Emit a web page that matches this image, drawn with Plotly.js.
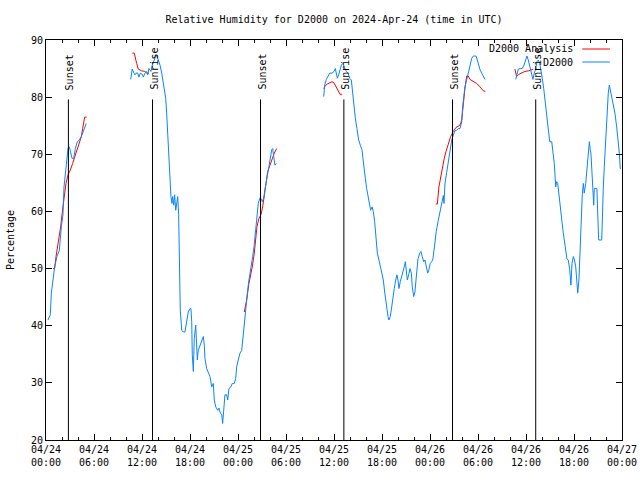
<!DOCTYPE html>
<html>
<head>
<meta charset="utf-8">
<script src="https://cdn.plot.ly/plotly-3.0.1.min.js"></script>
<style>html,body{margin:0;padding:0;background:#fff;}#chart{width:640px;height:480px;}</style>
</head>
<body>
<div id="chart"></div>
<script>
// D2000 observations (null = gap in record)
const obsTime = [
"2024-04-24 00:15","2024-04-24 00:32","2024-04-24 00:40","2024-04-24 00:52","2024-04-24 01:05","2024-04-24 01:22","2024-04-24 01:40","2024-04-24 01:55","2024-04-24 02:07","2024-04-24 02:15","2024-04-24 02:25","2024-04-24 02:32","2024-04-24 02:45","2024-04-24 02:55","2024-04-24 03:05","2024-04-24 03:15","2024-04-24 03:28","2024-04-24 03:40","2024-04-24 03:55","2024-04-24 04:10","2024-04-24 04:25","2024-04-24 04:40","2024-04-24 04:55","2024-04-24 05:02",
"2024-04-24 08:00",
"2024-04-24 10:35","2024-04-24 10:47","2024-04-24 11:00","2024-04-24 11:07","2024-04-24 11:15","2024-04-24 11:28","2024-04-24 11:37","2024-04-24 11:47","2024-04-24 12:02","2024-04-24 12:10","2024-04-24 12:22","2024-04-24 12:35","2024-04-24 12:43","2024-04-24 12:52","2024-04-24 13:07","2024-04-24 13:17","2024-04-24 13:32","2024-04-24 13:43","2024-04-24 13:52","2024-04-24 14:02","2024-04-24 14:15","2024-04-24 14:28","2024-04-24 14:40","2024-04-24 14:47","2024-04-24 14:58","2024-04-24 15:05","2024-04-24 15:13","2024-04-24 15:20","2024-04-24 15:28","2024-04-24 15:32","2024-04-24 15:37","2024-04-24 15:45","2024-04-24 15:50","2024-04-24 15:58","2024-04-24 16:05","2024-04-24 16:13","2024-04-24 16:20","2024-04-24 16:28","2024-04-24 16:35","2024-04-24 16:40","2024-04-24 16:47","2024-04-24 16:58","2024-04-24 17:10","2024-04-24 17:22","2024-04-24 17:35","2024-04-24 17:47","2024-04-24 18:00","2024-04-24 18:07","2024-04-24 18:13","2024-04-24 18:17","2024-04-24 18:25","2024-04-24 18:32","2024-04-24 18:43","2024-04-24 18:47","2024-04-24 18:55","2024-04-24 19:02","2024-04-24 19:15","2024-04-24 19:28","2024-04-24 19:40","2024-04-24 19:47","2024-04-24 19:52","2024-04-24 20:05","2024-04-24 20:17","2024-04-24 20:30","2024-04-24 20:43","2024-04-24 20:55","2024-04-24 21:02","2024-04-24 21:13","2024-04-24 21:28","2024-04-24 21:37","2024-04-24 21:45","2024-04-24 21:58","2024-04-24 22:05","2024-04-24 22:13","2024-04-24 22:22","2024-04-24 22:35","2024-04-24 22:43","2024-04-24 22:52","2024-04-24 23:07","2024-04-24 23:17","2024-04-24 23:32","2024-04-24 23:43","2024-04-24 23:50",
"2024-04-25 00:02","2024-04-25 00:15","2024-04-25 00:28","2024-04-25 00:35","2024-04-25 00:40","2024-04-25 00:47","2024-04-25 00:52","2024-04-25 00:58","2024-04-25 01:05","2024-04-25 01:13","2024-04-25 01:22","2024-04-25 01:30","2024-04-25 01:43","2024-04-25 01:50","2024-04-25 02:00","2024-04-25 02:07","2024-04-25 02:15","2024-04-25 02:22","2024-04-25 02:32","2024-04-25 02:43","2024-04-25 02:52","2024-04-25 03:02","2024-04-25 03:13","2024-04-25 03:22","2024-04-25 03:32","2024-04-25 03:43","2024-04-25 03:52","2024-04-25 04:02","2024-04-25 04:13","2024-04-25 04:20","2024-04-25 04:28","2024-04-25 04:37","2024-04-25 04:47",
"2024-04-25 08:00",
"2024-04-25 10:43","2024-04-25 10:50","2024-04-25 11:02","2024-04-25 11:15","2024-04-25 11:28","2024-04-25 11:45","2024-04-25 12:00","2024-04-25 12:10","2024-04-25 12:17","2024-04-25 12:25","2024-04-25 12:35","2024-04-25 12:45","2024-04-25 12:55","2024-04-25 13:07","2024-04-25 13:20","2024-04-25 13:32","2024-04-25 13:45","2024-04-25 13:58","2024-04-25 14:10","2024-04-25 14:17","2024-04-25 14:28","2024-04-25 14:40","2024-04-25 14:52","2024-04-25 15:05","2024-04-25 15:17","2024-04-25 15:30","2024-04-25 15:37","2024-04-25 15:45","2024-04-25 15:55","2024-04-25 16:05","2024-04-25 16:15","2024-04-25 16:28","2024-04-25 16:35","2024-04-25 16:45","2024-04-25 16:55","2024-04-25 17:05","2024-04-25 17:15","2024-04-25 17:25","2024-04-25 17:37","2024-04-25 17:50","2024-04-25 18:00","2024-04-25 18:10","2024-04-25 18:20","2024-04-25 18:28","2024-04-25 18:35","2024-04-25 18:45","2024-04-25 18:52","2024-04-25 19:02","2024-04-25 19:13","2024-04-25 19:22","2024-04-25 19:32","2024-04-25 19:43","2024-04-25 19:52","2024-04-25 20:00","2024-04-25 20:07","2024-04-25 20:17","2024-04-25 20:28","2024-04-25 20:37","2024-04-25 20:47","2024-04-25 20:55","2024-04-25 21:02","2024-04-25 21:10","2024-04-25 21:20","2024-04-25 21:30","2024-04-25 21:40","2024-04-25 21:47","2024-04-25 21:58","2024-04-25 22:07","2024-04-25 22:15","2024-04-25 22:22","2024-04-25 22:30","2024-04-25 22:43","2024-04-25 22:52","2024-04-25 23:02","2024-04-25 23:13","2024-04-25 23:22","2024-04-25 23:32","2024-04-25 23:43","2024-04-25 23:52",
"2024-04-26 00:02","2024-04-26 00:13","2024-04-26 00:22","2024-04-26 00:30","2024-04-26 00:37","2024-04-26 00:47","2024-04-26 01:00","2024-04-26 01:15","2024-04-26 01:28","2024-04-26 01:40","2024-04-26 01:45","2024-04-26 01:52","2024-04-26 02:05","2024-04-26 02:17","2024-04-26 02:30","2024-04-26 02:43","2024-04-26 02:55","2024-04-26 03:07","2024-04-26 03:20","2024-04-26 03:32","2024-04-26 03:45","2024-04-26 03:58","2024-04-26 04:05","2024-04-26 04:15","2024-04-26 04:22","2024-04-26 04:35","2024-04-26 04:47","2024-04-26 05:00","2024-04-26 05:13","2024-04-26 05:25","2024-04-26 05:45","2024-04-26 05:55","2024-04-26 06:05","2024-04-26 06:15","2024-04-26 06:28","2024-04-26 06:40","2024-04-26 06:52",
"2024-04-26 08:00",
"2024-04-26 10:43","2024-04-26 10:52","2024-04-26 11:02","2024-04-26 11:17","2024-04-26 11:32","2024-04-26 11:45","2024-04-26 11:58","2024-04-26 12:07","2024-04-26 12:17","2024-04-26 12:28","2024-04-26 12:37","2024-04-26 12:52","2024-04-26 13:02","2024-04-26 13:13","2024-04-26 13:22","2024-04-26 13:32","2024-04-26 13:43","2024-04-26 13:52","2024-04-26 14:02","2024-04-26 14:13","2024-04-26 14:22","2024-04-26 14:30","2024-04-26 14:37","2024-04-26 14:47","2024-04-26 14:58","2024-04-26 15:13","2024-04-26 15:22","2024-04-26 15:32","2024-04-26 15:43","2024-04-26 15:50","2024-04-26 15:58","2024-04-26 16:05","2024-04-26 16:15","2024-04-26 16:28","2024-04-26 16:37","2024-04-26 16:47","2024-04-26 16:58","2024-04-26 17:07","2024-04-26 17:17","2024-04-26 17:28","2024-04-26 17:37","2024-04-26 17:45","2024-04-26 17:55","2024-04-26 18:02","2024-04-26 18:13","2024-04-26 18:20","2024-04-26 18:28","2024-04-26 18:37","2024-04-26 18:45","2024-04-26 18:52","2024-04-26 19:02","2024-04-26 19:10","2024-04-26 19:17","2024-04-26 19:28","2024-04-26 19:37","2024-04-26 19:47","2024-04-26 19:55","2024-04-26 20:02","2024-04-26 20:07","2024-04-26 20:15","2024-04-26 20:22","2024-04-26 20:28","2024-04-26 20:32","2024-04-26 20:52","2024-04-26 20:58","2024-04-26 21:05","2024-04-26 21:28","2024-04-26 21:32","2024-04-26 21:40","2024-04-26 21:47","2024-04-26 21:55","2024-04-26 22:02","2024-04-26 22:10","2024-04-26 22:17","2024-04-26 22:25","2024-04-26 22:32","2024-04-26 22:43","2024-04-26 22:55","2024-04-26 23:07","2024-04-26 23:20","2024-04-26 23:32","2024-04-26 23:40","2024-04-26 23:47","2024-04-26 23:52"
];
const obsRH = [
41.0,41.9,45.7,48.3,50.3,52.1,53.2,57.3,59.4,64.3,66.7,68.7,71.0,71.3,70.4,69.3,69.3,71.0,72.2,72.5,73.1,74.0,75.1,75.4,
null,
83.1,84.9,84.2,83.9,84.2,84.2,83.5,84.2,84.0,83.5,84.2,84.5,83.9,85.0,84.5,85.6,86.5,87.2,87.2,86.5,85.6,84.2,82.7,81.3,79.8,77.2,73.1,69.6,67.8,65.5,62.6,61.4,62.6,61.1,62.9,60.2,62.0,62.6,59.4,51.5,42.7,39.2,38.9,38.9,40.7,42.4,43.0,43.0,40.7,34.9,32.0,37.8,40.1,37.5,34.0,35.7,36.6,37.5,38.1,36.6,34.3,32.5,31.7,31.1,29.3,29.9,27.0,25.8,25.2,25.6,24.9,24.4,22.9,26.4,27.9,27.9,27.0,29.0,29.3,29.9,29.9,30.8,32.8,
34.0,35.2,35.7,37.5,39.2,40.1,41.0,43.3,45.1,46.3,48.0,49.2,50.3,52.1,53.8,55.6,58.0,59.7,61.4,62.3,62.3,61.7,62.3,63.8,65.5,66.7,67.8,69.6,70.8,71.0,69.6,68.1,68.4,
null,
80.1,82.1,83.1,83.6,84.2,84.2,84.5,85.0,84.2,83.3,83.9,85.0,85.6,85.9,85.3,84.5,84.2,83.3,83.0,81.3,79.2,76.3,74.5,72.5,71.6,70.8,69.3,67.3,65.8,64.0,62.6,61.4,60.2,60.8,60.0,58.2,55.0,52.7,51.5,50.3,49.2,48.0,45.9,44.5,42.8,41.6,41.0,41.6,43.3,45.1,46.5,48.0,48.9,48.0,46.5,47.7,48.6,49.2,50.3,51.2,49.8,48.0,48.9,50.0,49.2,46.8,45.1,45.9,48.0,49.8,51.7,52.7,53.0,52.1,51.2,51.5,50.3,49.2,49.8,
50.9,51.2,51.7,53.2,55.0,56.5,58.2,59.9,61.4,62.8,61.4,64.8,66.8,68.8,70.9,72.5,73.4,74.1,74.2,74.5,74.5,75.7,78.3,80.4,81.8,83.0,84.2,85.6,86.8,87.2,87.2,86.5,85.6,84.8,84.2,83.6,83.1,
null,
83.1,84.2,84.9,85.0,85.0,85.6,86.5,87.2,86.5,85.3,84.2,83.1,84.2,85.0,86.2,86.5,85.9,84.8,83.3,81.5,79.8,77.7,76.0,74.2,72.2,72.2,70.2,68.4,64.3,65.2,64.9,63.2,61.4,58.5,56.7,55.0,53.2,51.7,51.5,49.8,47.1,50.9,52.1,51.7,50.3,48.0,45.7,48.0,53.8,57.3,62.9,64.9,63.2,64.9,67.8,70.2,72.2,70.8,70.2,66.7,62.9,61.1,64.0,64.0,59.7,55.0,55.0,59.7,64.3,67.8,71.9,75.4,77.7,80.7,82.1,81.3,79.8,78.9,77.2,74.8,72.5,70.2,67.5,67.5
];

// D2000 analysis (null = gap)
const anaTime = [
"2024-04-24 00:52","2024-04-24 01:05","2024-04-24 01:15","2024-04-24 01:28","2024-04-24 01:40","2024-04-24 01:50","2024-04-24 02:07","2024-04-24 02:17","2024-04-24 02:30","2024-04-24 02:45","2024-04-24 03:02","2024-04-24 03:20","2024-04-24 03:40","2024-04-24 03:55","2024-04-24 04:10","2024-04-24 04:25","2024-04-24 04:35","2024-04-24 04:45","2024-04-24 04:50","2024-04-24 05:05",
"2024-04-24 07:00",
"2024-04-24 10:47","2024-04-24 11:02","2024-04-24 11:20","2024-04-24 11:32","2024-04-24 11:58","2024-04-24 12:22","2024-04-24 12:35","2024-04-24 12:52",
"2024-04-24 18:00",
"2024-04-25 00:47","2024-04-25 01:05","2024-04-25 01:22","2024-04-25 01:37","2024-04-25 01:47","2024-04-25 02:02","2024-04-25 02:13","2024-04-25 02:22","2024-04-25 02:37","2024-04-25 02:52","2024-04-25 03:05","2024-04-25 03:17","2024-04-25 03:30","2024-04-25 03:43","2024-04-25 04:00","2024-04-25 04:17","2024-04-25 04:32","2024-04-25 04:50",
"2024-04-25 08:00",
"2024-04-25 10:43","2024-04-25 10:55","2024-04-25 11:10","2024-04-25 11:28","2024-04-25 11:45","2024-04-25 12:00","2024-04-25 12:17","2024-04-25 12:35","2024-04-25 12:45","2024-04-25 13:00",
"2024-04-25 18:00",
"2024-04-26 00:43","2024-04-26 00:55","2024-04-26 01:07","2024-04-26 01:20","2024-04-26 01:35","2024-04-26 01:47","2024-04-26 02:00","2024-04-26 02:17","2024-04-26 02:35","2024-04-26 02:55","2024-04-26 03:15","2024-04-26 03:32","2024-04-26 03:45","2024-04-26 03:58","2024-04-26 04:10","2024-04-26 04:22","2024-04-26 04:35","2024-04-26 04:47","2024-04-26 05:00","2024-04-26 05:25","2024-04-26 05:50","2024-04-26 06:15","2024-04-26 06:40","2024-04-26 06:55",
"2024-04-26 08:00",
"2024-04-26 10:37","2024-04-26 10:50","2024-04-26 11:07","2024-04-26 11:28","2024-04-26 11:52","2024-04-26 12:17","2024-04-26 12:37","2024-04-26 12:55"
];
const anaRH = [
50.0,50.0,52.1,54.1,55.6,57.3,60.8,62.6,64.9,66.4,67.2,68.4,69.9,70.8,71.9,73.1,74.5,75.9,76.5,76.5,
null,
87.7,87.7,85.9,84.9,84.6,84.5,84.2,84.2,
null,
42.4,44.5,47.4,48.9,50.3,52.7,55.0,57.3,58.8,59.4,60.8,62.9,65.5,67.0,68.1,69.3,70.2,71.0,
null,
81.5,82.0,82.3,82.5,82.7,82.5,81.8,81.0,80.5,80.5,
null,
61.3,61.3,64.3,66.1,67.8,69.3,70.5,71.9,73.1,74.0,74.7,74.9,75.1,76.0,79.5,81.5,83.7,83.7,83.1,82.7,82.4,81.8,81.1,81.0,
null,
84.9,83.6,84.0,84.3,84.5,84.6,84.8,84.9
];

// Sunset / sunrise markers
const eventTimes = ["2024-04-24 02:48","2024-04-24 13:19","2024-04-25 02:49","2024-04-25 13:14","2024-04-26 02:49","2024-04-26 13:13"];
const eventLabels = ["Sunset","Sunrise","Sunset","Sunrise","Sunset","Sunrise"];
const eventTop = 79.6;

const seriesNames = ["D2000 Analysis","D2000"];
const seriesColors = ["#ff0000","#0a84ff"];

const FONT = "DejaVu Sans Mono, monospace";

const traces = [
  {x: anaTime, y: anaRH, type: "scatter", mode: "lines", name: seriesNames[0],
   line: {color: seriesColors[0], width: 1}, connectgaps: false, showlegend: false},
  {x: obsTime, y: obsRH, type: "scatter", mode: "lines", name: seriesNames[1],
   line: {color: seriesColors[1], width: 1}, connectgaps: false, showlegend: false}
];

const shapes = eventTimes.map(t => ({
  type: "line", xref: "x", yref: "y", x0: t, x1: t, y0: 20, y1: eventTop,
  line: {color: "#000", width: 1}
}));
const annotations = eventTimes.map((t, i) => ({
  xref: "x", yref: "y", x: t, y: 80.9, text: eventLabels[i], textangle: -90,
  showarrow: false, xanchor: "center", yanchor: "bottom", xshift: 1,
  font: {family: FONT, size: 10, color: "#000"}
}));

// key (gnuplot style: text right, sample to its right)
const keyY = [0.9775, 0.945];
seriesNames.forEach((n, i) => {
  annotations.push({xref: "paper", yref: "paper", x: 0.9185, y: keyY[i], text: n,
    showarrow: false, xanchor: "right", yanchor: "middle",
    font: {family: FONT, size: 10, color: "#000"}});
  shapes.push({type: "line", xref: "paper", yref: "paper", x0: 0.931, x1: 0.979,
    y0: keyY[i], y1: keyY[i], line: {color: seriesColors[i], width: 1}});
});

const layout = {
  width: 640, height: 480,
  margin: {l: 46, r: 18, t: 40, b: 40},
  paper_bgcolor: "#fff", plot_bgcolor: "#fff",
  showlegend: false,
  font: {family: FONT, size: 10, color: "#000"},
  title: {text: "Relative Humidity for D2000 on 2024-Apr-24 (time in UTC)",
          font: {family: FONT, size: 10, color: "#000"},
          x: 0.5, xref: "paper", xanchor: "center", y: 0.96, yref: "container", yanchor: "middle"},
  xaxis: {
    type: "date", range: ["2024-04-24 00:00", "2024-04-27 00:00"],
    tick0: "2024-04-24 00:00", dtick: 6 * 3600 * 1000,
    tickformat: "%m/%d<br>%H:%M",
    ticks: "inside", ticklen: 6, tickcolor: "#000", tickwidth: 1,
    minor: {dtick: 2 * 3600 * 1000, ticks: "inside", ticklen: 3, tickcolor: "#000", showgrid: false},
    showline: true, linecolor: "#000", linewidth: 1, mirror: "ticks",
    showgrid: false, zeroline: false,
    tickfont: {family: FONT, size: 10, color: "#000"}
  },
  yaxis: {
    range: [20, 90], dtick: 10, tick0: 20,
    ticks: "inside", ticklen: 6, tickcolor: "#000", tickwidth: 1,
    showline: true, linecolor: "#000", linewidth: 1, mirror: "ticks",
    showgrid: false, zeroline: false,
    tickfont: {family: FONT, size: 10, color: "#000"},
    title: {text: "Percentage", font: {family: FONT, size: 10, color: "#000"}, standoff: 14}
  },
  shapes: shapes,
  annotations: annotations
};

Plotly.newPlot("chart", traces, layout, {staticPlot: true, displayModeBar: false});
</script>
</body>
</html>
